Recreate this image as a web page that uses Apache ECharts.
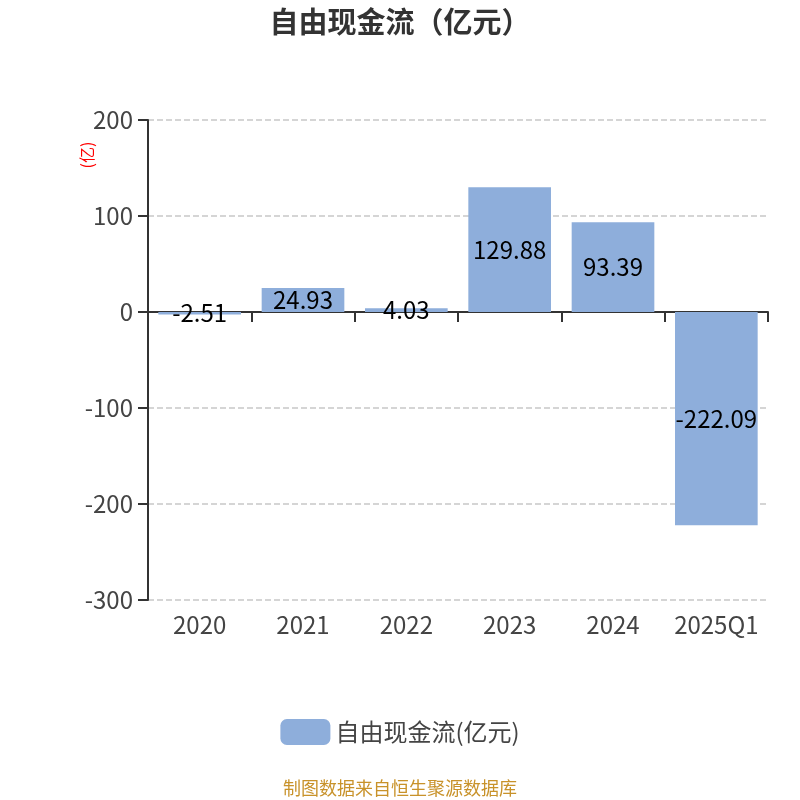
<!DOCTYPE html>
<html lang="zh">
<head>
    <meta charset="UTF-8">
    <title>自由现金流（亿元）</title>
    <script src="https://cdn.jsdelivr.net/npm/echarts/dist/echarts.min.js"></script>
    <style>
        body { margin: 0; }
    </style>
</head>
<body>
    <div id="main" style="width: 800px; height: 800px;"></div>
    <script>
        // Chart data
        var categories = ['2020', '2021', '2022', '2023', '2024', '2025Q1'];
        var cashFlow = [-2.51, 24.93, 4.03, 129.88, 93.39, -222.09];
        var seriesName = '自由现金流(亿元)';

        var font = '"Noto Sans CJK SC", "Noto Sans", sans-serif';
        var chart = echarts.init(document.getElementById('main'));

        var option = {
            textStyle: { fontFamily: font },
            title: {
                text: '自由现金流（亿元）',
                left: 'center',
                top: 2,
                textStyle: { fontSize: 29, fontWeight: 'bold', color: '#333', fontFamily: font }
            },
            grid: { left: 148, right: 32, top: 120, bottom: 200 },
            legend: {
                bottom: 50,
                itemWidth: 50,
                itemHeight: 26,
                itemGap: 10,
                textStyle: { fontSize: 24, color: '#444' },
                data: [{ name: seriesName, icon: 'roundRect' }]
            },
            graphic: [{
                type: 'text',
                left: 'center',
                top: 779,
                style: { text: '制图数据来自恒生聚源数据库', fill: '#c8922a', fontSize: 18, fontFamily: font }
            }, {
                // y-axis unit, drawn vertically at the upper left
                type: 'text',
                x: 87,
                y: 155,
                rotation: Math.PI / 2,
                style: { text: '(亿)', fill: 'red', fontSize: 16, fontFamily: font, align: 'center', verticalAlign: 'middle' }
            }],
            xAxis: [{
                type: 'category',
                data: categories,
                axisLine: { onZero: true, lineStyle: { color: '#333', width: 2 } },
                axisTick: { show: true, length: 10, lineStyle: { color: '#333', width: 2 } },
                axisLabel: { show: false }
            }, {
                type: 'category',
                data: categories,
                position: 'bottom',
                axisLine: { show: false, onZero: false },
                axisTick: { show: false },
                axisLabel: { interval: 0, fontSize: 24, color: '#444', margin: 13 }
            }],
            yAxis: {
                type: 'value',
                min: -300,
                max: 200,
                interval: 100,
                axisLine: { show: true, lineStyle: { color: '#333', width: 2 } },
                axisTick: { show: true, length: 10, lineStyle: { color: '#333', width: 2 } },
                axisLabel: { fontSize: 24, color: '#444', margin: 15 },
                splitLine: { show: true, lineStyle: { type: 'dashed', color: '#c8c8c8', width: 1.5 } }
            },
            series: [{
                name: seriesName,
                type: 'bar',
                xAxisIndex: 0,
                barWidth: '80%',
                data: cashFlow,
                itemStyle: { color: '#8eaedb' },
                label: {
                    show: true,
                    position: 'inside',
                    fontSize: 24,
                    color: '#000'
                }
            }]
        };

        chart.setOption(option);
    </script>
</body>
</html>
